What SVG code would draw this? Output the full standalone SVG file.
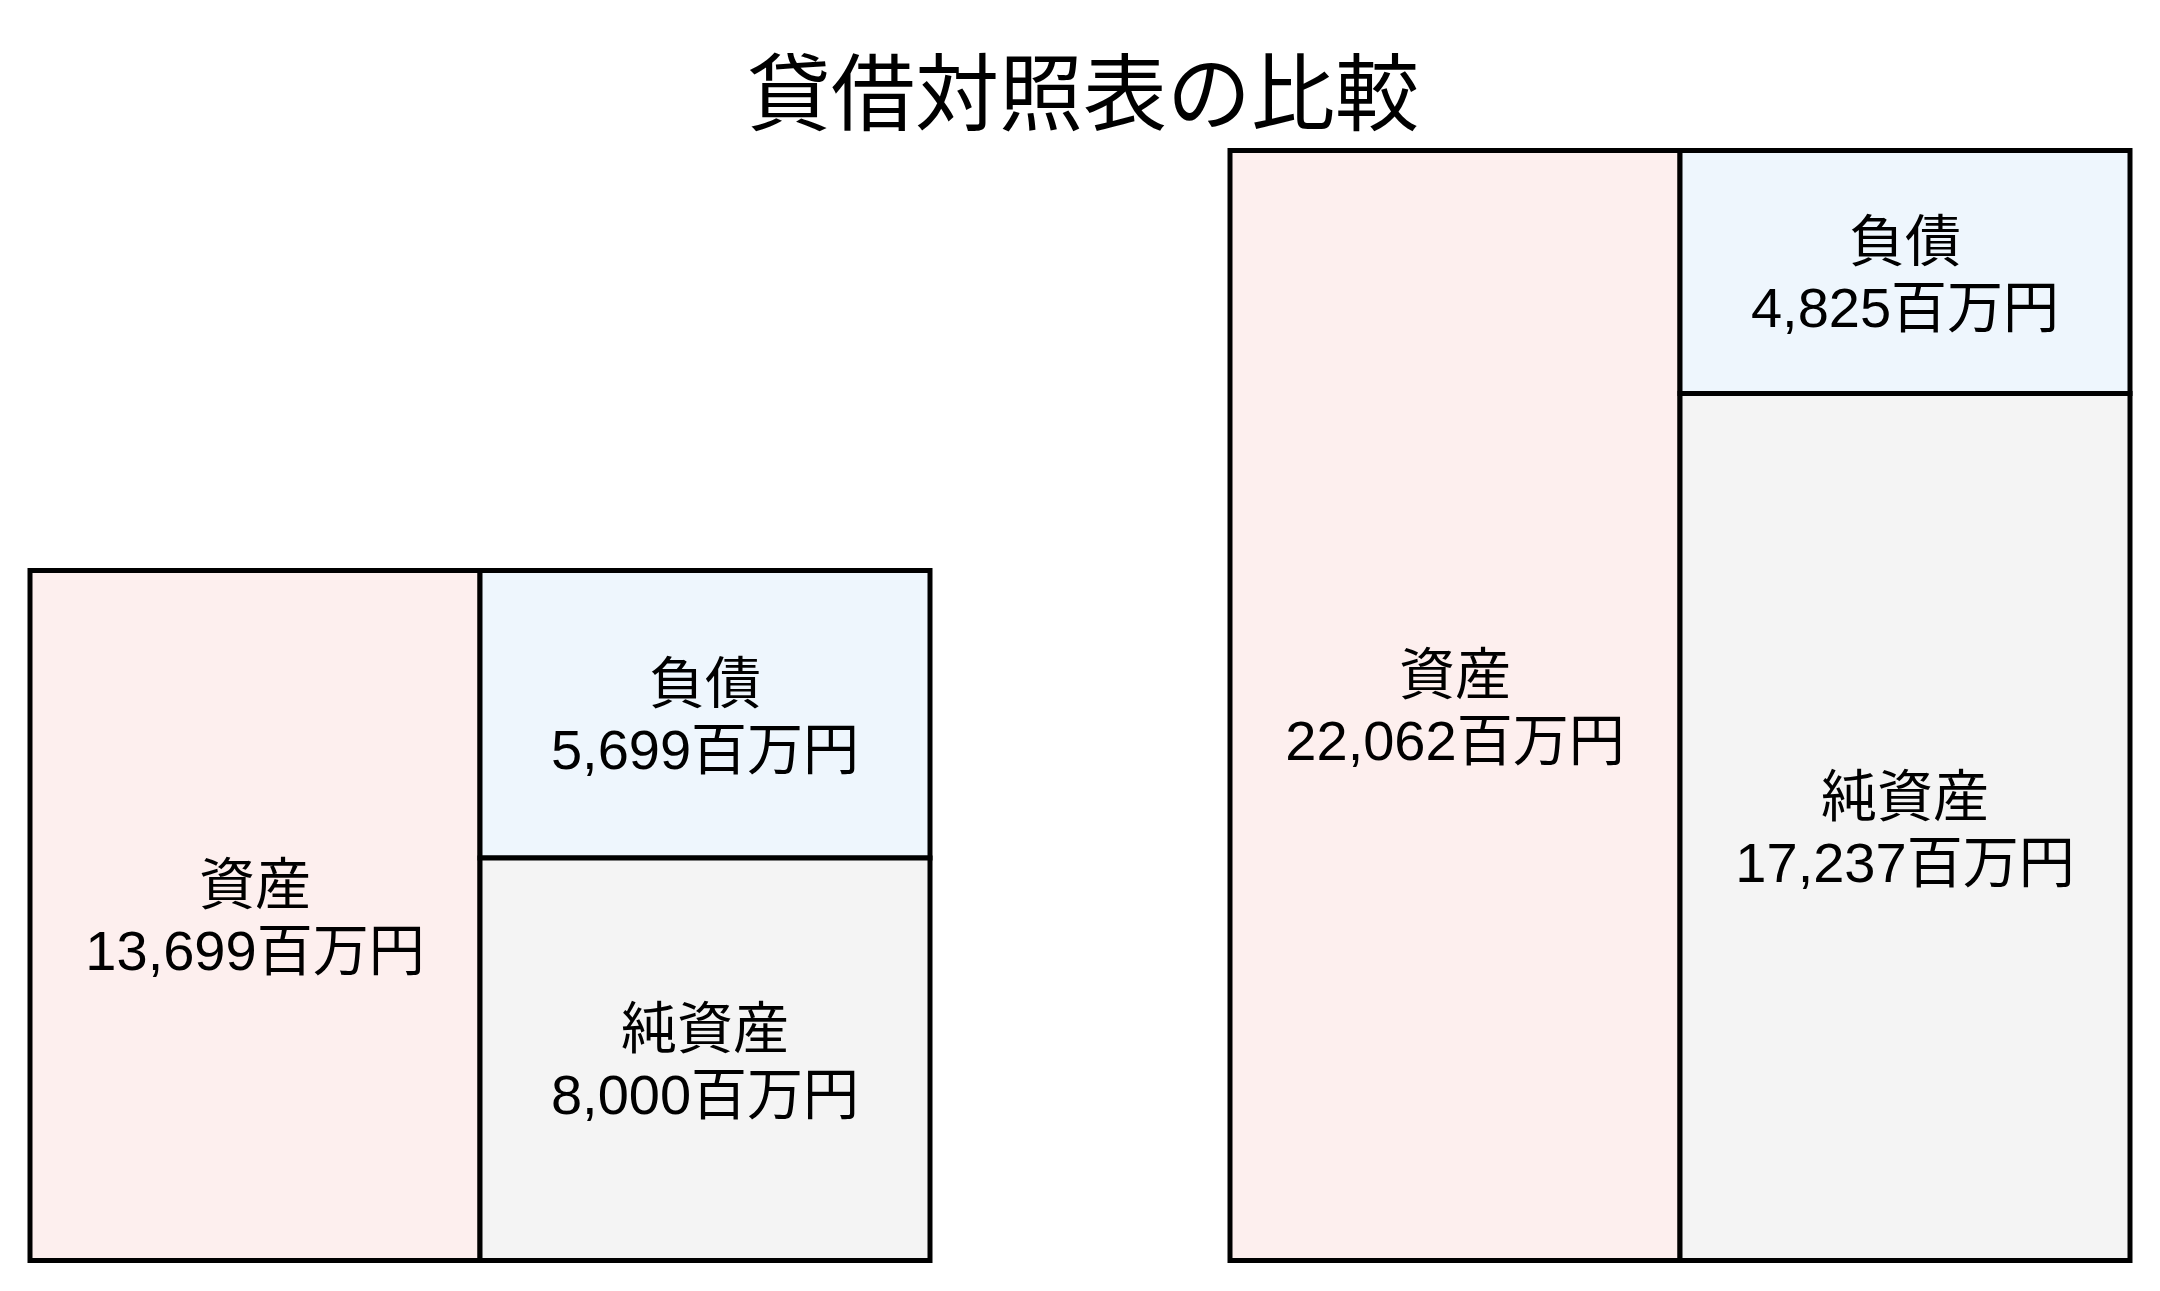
<svg xmlns="http://www.w3.org/2000/svg" width="2160" height="1291" viewBox="0 0 2160 1291">
<style>
.box{stroke:#000;stroke-width:5}
.asset{fill:#fdefee}
.liab{fill:#eef6fd}
.net{fill:#f4f4f4}
.lbl{font-family:"Liberation Sans","Noto Sans CJK JP",sans-serif;font-size:56px;fill:#000;text-anchor:middle}
.title{font-family:"Liberation Sans","Noto Sans CJK JP",sans-serif;font-size:84px;fill:#000;text-anchor:middle}
</style>
<rect width="2160" height="1291" fill="#fff"/>
<text id="title" class="title" x="1083" y="124">貸借対照表の比較</text>
<g id="left-assets">
<rect class="box asset" x="30" y="570.5" width="450" height="690"/>
<text class="lbl" x="255" y="904">資産</text>
<text class="lbl" x="255" y="970">13,699百万円</text>
</g>
<g id="left-liabilities">
<rect class="box liab" x="480" y="570.5" width="450" height="287.5"/>
<text class="lbl" x="705" y="703">負債</text>
<text class="lbl" x="705" y="769">5,699百万円</text>
</g>
<g id="left-net-assets">
<rect class="box net" x="480" y="858" width="450" height="402.5"/>
<text class="lbl" x="705" y="1047.5">純資産</text>
<text class="lbl" x="705" y="1113.5">8,000百万円</text>
</g>
<g id="right-assets">
<rect class="box asset" x="1230" y="150.5" width="450" height="1110"/>
<text class="lbl" x="1455" y="694">資産</text>
<text class="lbl" x="1455" y="760">22,062百万円</text>
</g>
<g id="right-liabilities">
<rect class="box liab" x="1680" y="150.5" width="450" height="243"/>
<text class="lbl" x="1905" y="260.5">負債</text>
<text class="lbl" x="1905" y="326.5">4,825百万円</text>
</g>
<g id="right-net-assets">
<rect class="box net" x="1680" y="393.5" width="450" height="867"/>
<text class="lbl" x="1905" y="815.5">純資産</text>
<text class="lbl" x="1905" y="881.5">17,237百万円</text>
</g>
<g id="connectors"/>
</svg>
